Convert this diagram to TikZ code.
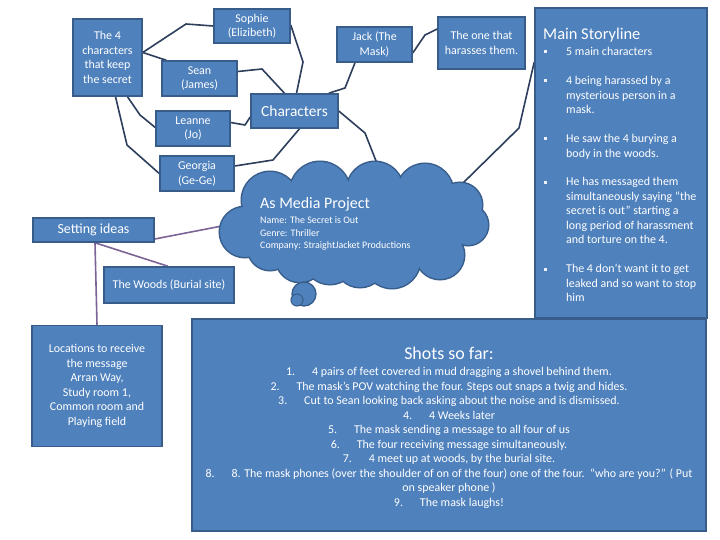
\documentclass[tikz,border=0pt]{standalone}
\usepackage{fontspec}
\setmainfont{Carlito}
\usetikzlibrary{backgrounds}
\definecolor{boxfill}{RGB}{79,129,189}
\definecolor{boxline}{RGB}{56,93,138}
\definecolor{linkc}{RGB}{45,62,92}
\definecolor{setc}{RGB}{125,100,150}
\tikzset{
  box/.style={draw=boxline, fill=boxfill, line width=1.5bp, text=white, align=center,
    inner sep=0pt, font=\fontsize{12}{14.5}\selectfont},
  sz/.style 2 args={minimum width=#1bp, minimum height=#2bp},
  link/.style={draw=linkc, line width=1.6bp, line join=round},
  setlink/.style={draw=setc, line width=1.6bp, line join=round},
  txt/.style={text=white, inner sep=0pt},
  small/.style={font=\fontsize{12}{14.5}\selectfont},
}
\begin{document}
\begin{tikzpicture}[x=1bp,y=-1bp]
\useasboundingbox (0,0) rectangle (720,540);
\begin{scope}[on background layer]
\fill[white] (0,0) rectangle (720,540);
\end{scope}

% boxes
\node[box, sz={69}{77}] (four) at (107.5,57.5) {The 4\\characters\\that keep\\the secret};
\node[box, sz={76}{34}] (sophie) at (252,26) {Sophie\\(Elizibeth)};
\node[box, sz={75}{35}] (sean) at (199.5,78.5) {Sean\\(James)};
\node[box, sz={74}{35}] (leanne) at (193,128.5) {Leanne\\(Jo)};
\node[box, sz={74}{35}] (georgia) at (197,173.5) {Georgia\\(Ge-Ge)};
\node[box, sz={87}{34}, font=\fontsize{15.5}{18}\selectfont] (chars) at (294.5,111) {Characters};
\node[box, sz={75}{35}] (jack) at (374.5,44.5) {Jack (The\\Mask)};
\node[box, sz={87}{52}] (harasser) at (481.5,43) {The one that\\harasses them.};
\node[box, sz={172}{310}] (story) at (621,163) {};
\node[box, sz={121}{24}, font=\fontsize{14}{16}\selectfont] (setting) at (93.5,230) {Setting ideas};
\node[box, sz={130}{36}] (woods) at (169,285) {The Woods (Burial site)};
\node[box, sz={130}{121}] (loc) at (97,386) {Locations to receive\\the message\\Arran Way,\\Study room 1,\\Common room and\\Playing field};
\node[box, sz={514}{212}] (shots) at (449,425) {};

% cloud (union of puffs: stroke pass, then fill pass)
\def\puffs{245/232/25, 270/200/28, 320/192/30, 375/190/28, 425/192/28, 460/205/22,
  468/225/20, 440/255/24, 392/260/28, 360/262/25, 330/258/26, 300/258/24, 270/248/22}
\foreach \cx/\cy/\r in \puffs \draw[boxline, line width=3bp] (\cx,\cy) circle (\r);
\foreach \cx/\cy/\r in \puffs \fill[boxfill] (\cx,\cy) circle (\r);
\fill[boxfill] (354,226) ellipse [x radius=110, y radius=40];
\coordinate (cloudtop) at (378,166);
\coordinate (cloudright) at (462,184);
\coordinate (cloudleft) at (222,226);
% thought bubble tail
\draw[boxline, fill=boxfill, line width=1.3bp] (304,294) circle (12);
\draw[boxline, fill=boxfill, line width=1.1bp] (297,300) circle (6);
\node[txt, anchor=west, font=\fontsize{16}{19}\selectfont] (cloudtitle) at (260,204) {As Media Project};
\node[txt, anchor=base west, align=left, font=\fontsize{10}{12.5}\selectfont] (cloudtext) at (260,248.5)
  {Name: The Secret is Out\\Genre: Thriller\\Company: StraightJacket Productions};

% main storyline text
\node[txt, anchor=base west, font=\fontsize{16.5}{19}\selectfont] (storytitle) at (543,40) {Main Storyline};
\node[txt, anchor=base west, align=left, small] (storytext) at (566,301.5)
  {5 main characters\\[14.5pt]
   4 being harassed by a\\mysterious person in a\\mask.\\[14.5pt]
   He saw the 4 burying a\\body in the woods.\\[14.5pt]
   He has messaged them\\simultaneously saying “the\\secret is out” starting a\\long period of harassment\\and torture on the 4.\\[14.5pt]
   The 4 don’t want it to get\\leaked and so want to stop\\him};
\foreach \yy in {52,81,139,182.5,269.5}
  \fill[white!90!boxfill] (543.5,\yy-1.5) rectangle +(3,3);

% shots text
\node[txt, anchor=base, font=\fontsize{18}{21}\selectfont] (shotstitle) at (449,359) {Shots so far:};
\begin{scope}[every node/.style={txt, anchor=base, small}]
\node (s1) at (449,375.7) {1.\hspace{17pt}4 pairs of feet covered in mud dragging a shovel behind them.};
\node (s2) at (449,390) {2.\hspace{17pt}The mask’s POV watching the four. Steps out snaps a twig and hides.};
\node (s3) at (449,404.3) {3.\hspace{17pt}Cut to Sean looking back asking about the noise and is dismissed.};
\node (s4) at (449,419) {4.\hspace{17pt}4 Weeks later};
\node (s5) at (449,433.3) {5.\hspace{17pt}The mask sending a message to all four of us};
\node (s6) at (449,448) {6.\hspace{17pt}The four receiving message simultaneously.};
\node (s7) at (449,462.3) {7.\hspace{17pt}4 meet up at woods, by the burial site.};
\node (s8) at (449,477.3) {8.\hspace{17pt}8. The mask phones (over the shoulder of on of the four) one of the four.\ \ “who are you?” ( Put};
\node (s8b) at (449,491.3) {on speaker phone )};
\node (s9) at (449,506) {9.\hspace{17pt}The mask laughs!};
\end{scope}

% connectors
\begin{scope}[on background layer]
\draw[link] ([yshift=5bp]four.east) -- (186,24) -- (sophie.west);
\draw[link] ([yshift=5bp]four.east) -- ([xshift=5bp]sean.north west);
\draw[link] ([xshift=20bp]four.south) -- (140,115) -- ([yshift=1bp]leanne.west);
\draw[link] ([xshift=8bp]four.south) -- (127,145) -- (georgia.west);
\draw[link] ([yshift=7bp]sean.east) -- (262,69) -- ([xshift=-10bp]chars.north);
\draw[link] ([yshift=1bp]sophie.east) -- (303,62) -- ([xshift=2bp]chars.north);
\draw[link] ([yshift=6bp]leanne.east) -- (245,125) -- ([yshift=-6bp]chars.west);
\draw[link] ([xshift=5bp]chars.south) -- (273,160) -- ([yshift=7.5bp]georgia.east);
\draw[link] (chars.east) -- (365,133) -- (cloudtop);
\draw[link] ([xshift=-10bp]chars.north east) -- (345,88) -- ([xshift=-19.5bp]jack.south);
\draw[link] ([yshift=-8.5bp]jack.east) -- (425,35) -- ([yshift=14bp]harasser.west);
\draw[link] ([yshift=101bp]story.west) -- (519,128) -- (cloudright);
\draw[setlink] ([yshift=-9bp]setting.east) -- (cloudleft);
\draw[setlink] ([xshift=1.5bp]setting.south) -- ([xshift=-1bp]woods.north);
\draw[setlink] ([xshift=1.5bp]setting.south) -- (loc.north);
\end{scope}
\end{tikzpicture}
\end{document}
